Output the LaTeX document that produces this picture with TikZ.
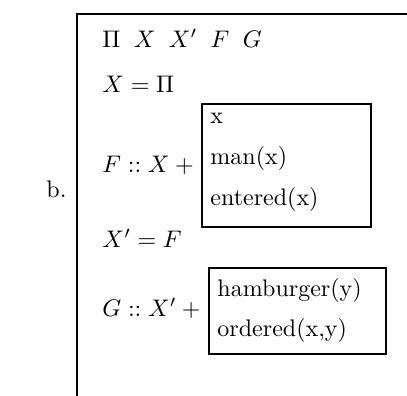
\documentclass[tikz,border=0pt]{standalone}
\usepackage{amsmath}
\usepackage{amssymb}
\usepackage{tikz}

\tikzset{
  txt/.style={anchor=base west, inner sep=0pt},
  drsline/.style={line width=0.5pt}
}

\begin{document}
\begin{tikzpicture}[x=0.41667pt, y=-0.41667pt]
  % 例b: DRS
  \useasboundingbox (0,0) rectangle (407,395);
  \draw[drsline] (77,400) -- (77,14) -- (412,14);
  \node[txt] (lab) at (46,197) {b.};
  \node[txt] (univ) at (102,47) {$\Pi\;\;X\;\;X'\;\;F\;\;G$};
  \node[txt] (eqx) at (102,92) {$X = \Pi$};
  \node[txt] (fdef) at (102,172) {$F :: X +{}$};
  \draw[drsline] (202,104) rectangle (371,227);
  \node[txt] (fx) at (210,123) {x};
  \node[txt] (fman) at (210,164) {man(x)};
  \node[txt] (fent) at (210,205) {entered(x)};
  \node[txt] (eqxp) at (102,247) {$X' = F$};
  \node[txt] (gdef) at (102,316) {$G :: X' +{}$};
  \draw[drsline] (209,268) rectangle (386,354);
  \node[txt] (gham) at (217,296) {hamburger(y)};
  \node[txt] (gord) at (217,336) {ordered(x,y)};
\end{tikzpicture}
\end{document}
